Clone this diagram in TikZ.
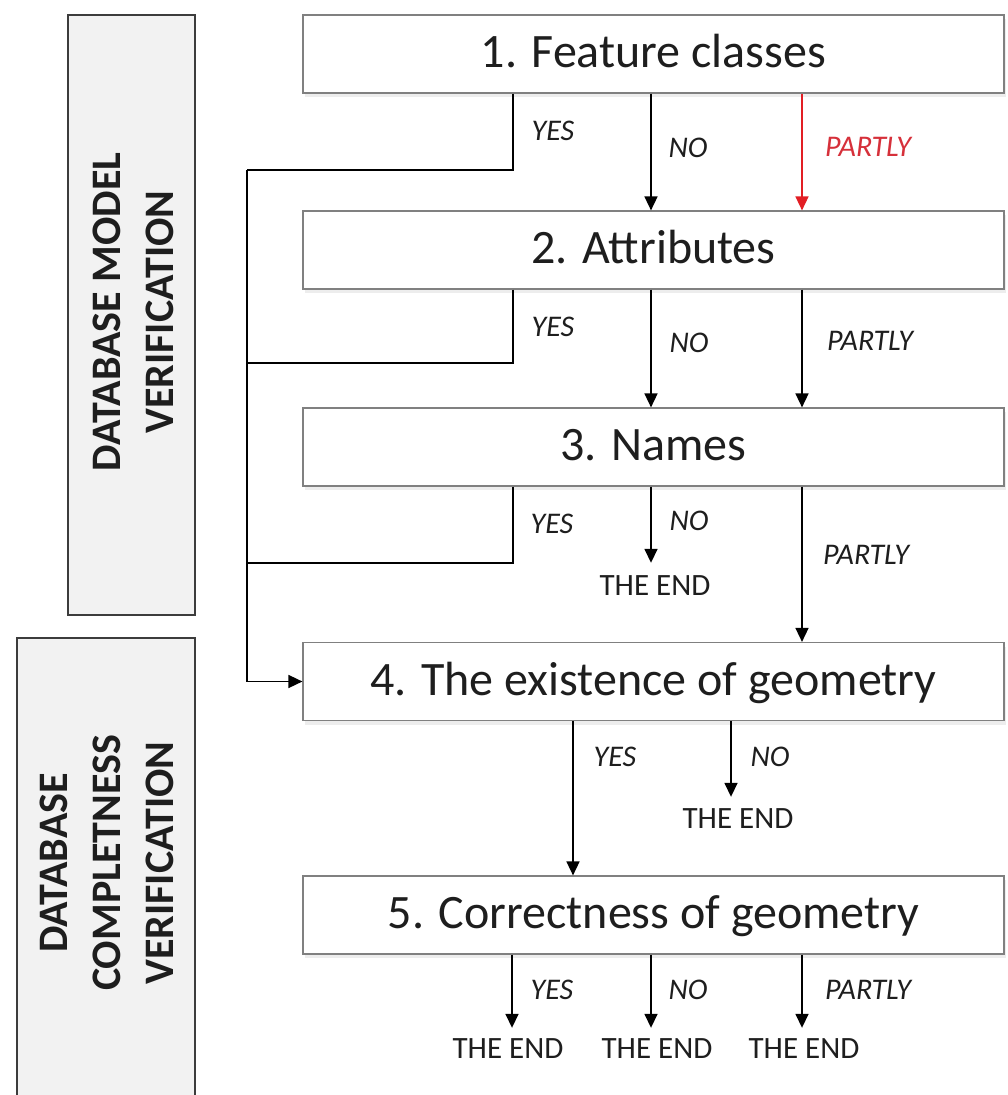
\documentclass[tikz,border=0pt]{standalone}
\usepackage{fontspec}
\setmainfont{Carlito}
\usetikzlibrary{arrows.meta,shadows}
\definecolor{boxgray}{RGB}{128,128,128}
\definecolor{sidegray}{RGB}{242,242,242}
\definecolor{sideline}{RGB}{60,60,60}
\definecolor{redarrow}{RGB}{226,30,36}
\definecolor{redtext}{RGB}{214,48,58}
\definecolor{textdark}{RGB}{30,30,30}
\begin{document}
\begin{tikzpicture}[x=1pt,y=-1pt,
  stepbox/.style={draw=boxgray, line width=1.2pt, fill=white,
    minimum width=701pt, minimum height=78pt, inner sep=0pt,
    font=\fontsize{48}{58}\selectfont, text=textdark,
    text height=36pt, text depth=9pt,
    drop shadow={opacity=0.14, shadow xshift=2pt, shadow yshift=-4pt}},
  sidebox/.style={draw=sideline, line width=1.2pt, fill=sidegray, inner sep=0pt},
  sidetext/.style={rotate=90, align=center, text=textdark,
    font=\fontsize{42}{53}\selectfont\bfseries, inner sep=0pt},
  lbl/.style={font=\fontsize{30}{36}\selectfont\itshape, text=textdark,
    inner sep=0pt, text height=19.5pt, text depth=0pt},
  endlbl/.style={font=\fontsize{31}{36}\selectfont, text=textdark,
    inner sep=0pt, text height=20pt, text depth=0pt},
  conn/.style={draw=black, line width=1.6pt},
  arr/.style={conn, -{Triangle[length=14pt,width=13pt]}},
  redarr/.style={draw=redarrow, line width=1.6pt, -{Triangle[length=14pt,width=13pt]}}
]
\useasboundingbox (0,0) rectangle (1008,1095);

% side boxes
\node[sidebox, minimum width=127pt, minimum height=600pt] (sa) at (131.5,315) {};
\node[sidetext] (ta) at (133,312) {DATABASE MODEL\\VERIFICATION};
\node[sidebox, minimum width=178pt, minimum height=470pt] (sb) at (106,873) {};
\node[sidetext] (tb) at (107,863) {DATABASE\\COMPLETNESS\\VERIFICATION};

% main boxes
\node[stepbox] (b1) at (653.5,54) {1. Feature classes};
\node[stepbox] (b2) at (653.5,250) {2. Attributes};
\node[stepbox] (b3) at (653.5,447) {3. Names};
\node[stepbox] (b4) at (653.5,681.5) {4. The existence of geometry};
\node[stepbox] (b5) at (653.5,915) {5. Correctness of geometry};

% columns and joints
\coordinate (cYes) at (513,0);
\coordinate (cNo) at (651,0);
\coordinate (cPart) at (802,0);
\coordinate (cYes4) at (573,0);
\coordinate (cNo4) at (731,0);
\coordinate (cYes5) at (512,0);
\coordinate (j1) at (247,170);
\coordinate (j2) at (247,363);
\coordinate (j3) at (247,563);

% YES loop to box 4
\draw[conn] (b1.south -| cYes) |- (j1);
\draw[conn] (b2.south -| cYes) |- (j2);
\draw[conn] (b3.south -| cYes) |- (j3);
\draw[arr] (j1) |- (b4.west);

% box 1 -> box 2
\draw[arr] (b1.south -| cNo) -- (b2.north -| cNo);
\draw[redarr] (b1.south -| cPart) -- (b2.north -| cPart);
\node[lbl] (y1) at (553,131) {YES};
\node[lbl] (n1) at (688,148) {NO};
\node[lbl, text=redtext] (p1) at (868,147) {PARTLY};

% box 2 -> box 3
\draw[arr] (b2.south -| cNo) -- (b3.north -| cNo);
\draw[arr] (b2.south -| cPart) -- (b3.north -| cPart);
\node[lbl] (y2) at (553,327) {YES};
\node[lbl] (n2) at (689,343) {NO};
\node[lbl] (p2) at (870,341) {PARTLY};

% box 3
\node[endlbl] (e3) at (655,585) {THE END};
\draw[arr, shorten >=12pt] (b3.south -| cNo) -- (e3.north -| cNo);
\draw[arr] (b3.south -| cPart) -- (b4.north -| cPart);
\node[lbl] (y3) at (552,524) {YES};
\node[lbl] (n3) at (689,521) {NO};
\node[lbl] (p3) at (866,555) {PARTLY};

% box 4
\node[endlbl] (e4) at (738,818) {THE END};
\draw[arr] (b4.south -| cYes4) -- (b5.north -| cYes4);
\draw[arr, shorten >=11pt] (b4.south -| cNo4) -- (e4.north -| cNo4);
\node[lbl] (y4) at (615,757) {YES};
\node[lbl] (n4) at (770,757) {NO};

% box 5
\node[endlbl] (e5a) at (508,1048) {THE END};
\node[endlbl] (e5b) at (657,1048) {THE END};
\node[endlbl] (e5c) at (804,1048) {THE END};
\draw[arr, shorten >=10pt] (b5.south -| cYes5) -- (e5a.north -| cYes5);
\draw[arr, shorten >=10pt] (b5.south -| cNo) -- (e5b.north -| cNo);
\draw[arr, shorten >=10pt] (b5.south -| cPart) -- (e5c.north -| cPart);
\node[lbl] (y5) at (552,990) {YES};
\node[lbl] (n5) at (688,990) {NO};
\node[lbl] (p5) at (868,990) {PARTLY};
\end{tikzpicture}
\end{document}
